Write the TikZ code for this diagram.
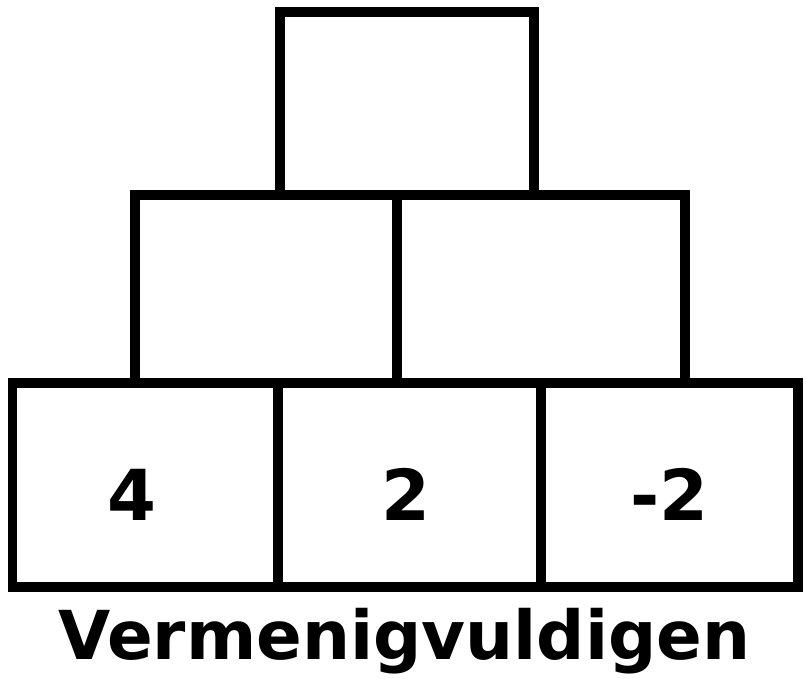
\documentclass[tikz,border=0pt]{standalone}
\usepackage{fontspec}
\setmainfont{DejaVu Sans}
\tikzset{
  muur/.style={line width=6.8pt, line join=miter},
  getal/.style={anchor=base, inner sep=0pt, font=\fontsize{50}{50}\selectfont\bfseries},
}
\begin{document}
\begin{tikzpicture}
    \useasboundingbox (0,0) rectangle (20.15,16.975);
    \coordinate (T1) at (7.0,12.1);   \coordinate (T2) at (13.35,16.675);
    \coordinate (M1) at (3.375,7.4);  \coordinate (M2) at (9.925,12.1);
    \coordinate (M3) at (17.125,12.1);
    \coordinate (O1) at (0.31,2.3);   \coordinate (O2) at (6.95,7.4);
    \coordinate (O3) at (13.525,7.4); \coordinate (O4) at (19.95,7.4);
    % top
    \draw[muur] (T1) rectangle (T2);
    % middle row
    \draw[muur] (M1) rectangle (M2); \draw[muur] (M2 |- M1) rectangle (M3);
    % bottom row
    \draw[muur] (O1) rectangle (O2); \draw[muur] (O2 |- O1) rectangle (O3);
    \draw[muur] (O3 |- O1) rectangle (O4);
    \node[getal] (g1) at (3.3,3.95) {4};
    \node[getal] (g2) at (10.15,3.95) {2};
    \node[getal] (g3) at (16.74,3.95) {-2};
    \node[anchor=base, inner sep=0pt, font=\fontsize{48}{48}\selectfont\bfseries]
      (titel) at (10.11,0.475) {Vermenigvuldigen};
\end{tikzpicture}
\end{document}
